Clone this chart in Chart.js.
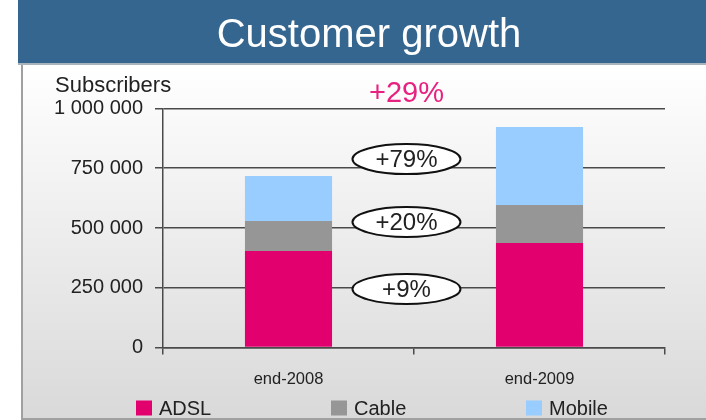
<!DOCTYPE html>
<html><head><meta charset="utf-8">
<script src="https://cdn.jsdelivr.net/npm/chart.js@4/dist/chart.umd.min.js"></script>
<style>html,body{margin:0;padding:0;background:#fff}#wrap{width:706px;height:420px}</style>
</head><body><div id="wrap"><canvas id="c" width="706" height="420"></canvas></div>
<script>
// ---- data ----
const categories = ['end-2008', 'end-2009'];
const seriesNames = ['ADSL', 'Cable', 'Mobile'];
const adsl = [404000, 437000];
const cable = [125000, 159000];
const mobile = [188000, 326000];
const yTicks = [0, 250000, 500000, 750000, 1000000];
const growthLabels = ['+9%', '+20%', '+79%'];
const growthLevels = [245000, 525000, 788000];
const totalGrowthLabel = '+29%';
const totalGrowthLevel = 1060000;
const yAxisLabel = 'Subscribers';
const chartTitle = 'Customer growth';

// ---- styles ----
const REG = '"Liberation Sans", Arial, sans-serif';
const colors = ['#e2006f', '#969696', '#99ccff'];
const axisColor = '#4a4a4a';

const bgPlugin = {
  id: 'bg',
  beforeDraw(chart) {
    const {ctx, width, height} = chart;
    const bannerBottom = chart.titleBlock ? chart.titleBlock.bottom : 65;
    ctx.save();
    ctx.fillStyle = '#fff'; ctx.fillRect(0, 0, width, height);
    const g = ctx.createLinearGradient(0, bannerBottom, 0, height);
    g.addColorStop(0, '#ffffff'); g.addColorStop(1, '#d9d9d9');
    ctx.fillStyle = g; ctx.fillRect(22, bannerBottom, width - 22, height - bannerBottom);
    ctx.fillStyle = '#35668f'; ctx.fillRect(18, 0, width - 18, bannerBottom - 2);
    ctx.fillStyle = '#a8b3bc'; ctx.fillRect(18, bannerBottom - 2, width - 18, 2);
    ctx.fillStyle = '#a0a0a0';
    ctx.fillRect(21, bannerBottom, 2, height - bannerBottom);
    ctx.fillRect(21, height - 2, width - 21, 2);
    ctx.restore();
  }
};

const annotPlugin = {
  id: 'annot',
  afterDatasetsDraw(chart) {
    const {ctx} = chart;
    const x = chart.scales.x, y = chart.scales.y;
    const cx = x.getPixelForValue(0.47);
    ctx.save();
    ctx.textAlign = 'center'; ctx.textBaseline = 'middle';
    growthLevels.forEach((lv, i) => {
      const cy = y.getPixelForValue(lv);
      ctx.beginPath(); ctx.ellipse(cx, cy, 54, 15, 0, 0, Math.PI * 2);
      ctx.fillStyle = '#fff'; ctx.fill();
      ctx.lineWidth = 2; ctx.strokeStyle = '#111'; ctx.stroke();
      ctx.fillStyle = '#222'; ctx.font = '24px ' + REG;
      ctx.fillText(growthLabels[i], cx, cy + 1);
    });
    ctx.fillStyle = '#e8207f'; ctx.font = '29px ' + REG;
    ctx.fillText(totalGrowthLabel, cx, y.getPixelForValue(totalGrowthLevel));
    ctx.restore();
  }
};

// simple legend: boxes evenly spread along the bottom band
const legendPlugin = {
  id: 'bottomLegend',
  afterDraw(chart, args, opts) {
    const {ctx} = chart;
    ctx.save();
    ctx.font = '20px ' + REG; ctx.textBaseline = 'middle'; ctx.textAlign = 'left';
    chart.data.datasets.forEach((ds, i) => {
      const bx = opts.start + i * opts.pitch;
      ctx.fillStyle = ds.backgroundColor;
      ctx.fillRect(bx, opts.y - 7.5, 16, 15);
      ctx.fillStyle = '#222';
      ctx.fillText(ds.label, bx + 23, opts.y + 1);
    });
    ctx.restore();
  }
};

const fmt = v => String(v).replace(/\B(?=(\d{3})+(?!\d))/g, ' ');

new Chart(document.getElementById('c'), {
  type: 'bar',
  data: {
    labels: categories,
    datasets: [
      {label: seriesNames[0], data: adsl, backgroundColor: colors[0], borderWidth: 0},
      {label: seriesNames[1], data: cable, backgroundColor: colors[1], borderWidth: 0},
      {label: seriesNames[2], data: mobile, backgroundColor: colors[2], borderWidth: 0}
    ]
  },
  options: {
    responsive: false,
    animation: false,
    datasets: {bar: {barPercentage: 0.347, categoryPercentage: 1}},
    layout: {padding: {left: 55, right: 23, top: 0, bottom: 30}},
    plugins: {
      title: {display: true, text: chartTitle, color: '#ffffff',
        font: {family: REG, size: 40, weight: 'normal', lineHeight: 1.2},
        padding: {top: 12, bottom: 5}},
      subtitle: {display: true, text: yAxisLabel, align: 'start', color: '#222',
        font: {family: REG, size: 22, weight: 'normal', lineHeight: 1.2},
        padding: {top: 8, bottom: 9}},
      legend: {display: false},
      bottomLegend: {start: 136, pitch: 195, y: 408},
      tooltip: {enabled: false}
    },
    scales: {
      x: {stacked: true,
        afterFit: s => { s.height = 42.4; },
        grid: {display: true, drawOnChartArea: false, drawTicks: true, tickLength: 7, color: axisColor, lineWidth: 1.5, offset: true},
        border: {display: true, color: axisColor, width: 1.5},
        ticks: {color: '#222', padding: 15, font: {family: REG, size: 16.5}}},
      y: {stacked: true, min: 0, max: 1000000,
        afterBuildTicks: s => { s.ticks = yTicks.map(v => ({value: v})); },
        afterFit: s => { s.width = 108; },
        grid: {color: axisColor, lineWidth: 1.5, tickLength: 8, drawTicks: true},
        border: {display: true, color: axisColor, width: 1.5},
        ticks: {color: '#222', padding: 12, callback: v => fmt(v), font: {family: REG, size: 20}}},
      y2: {position: 'right', display: true,
        grid: {display: false, drawTicks: false}, border: {display: false},
        ticks: {display: false},
        afterFit: s => { s.width = 18; }}
    }
  },
  plugins: [bgPlugin, annotPlugin, legendPlugin]
});
</script></body></html>
